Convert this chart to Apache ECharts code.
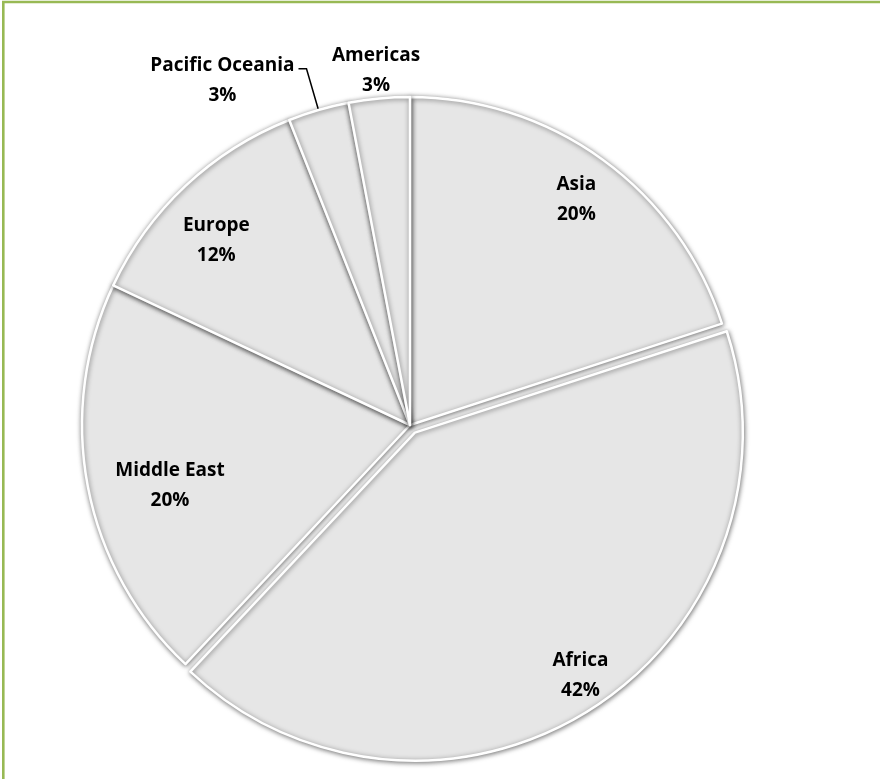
<!DOCTYPE html>
<html>
<head>
<meta charset="utf-8">
<script src="https://cdn.jsdelivr.net/npm/echarts@6/dist/echarts.min.js"></script>
<style>html,body{margin:0;padding:0;background:#fff;}#main{width:880px;height:779px;}</style>
</head>
<body>
<div id="main"></div>
<script>
const categories = ['Asia', 'Africa', 'Middle East', 'Europe', 'Pacific Oceania', 'Americas'];
const values = [20, 42, 20, 12, 3, 3];

const chart = echarts.init(document.getElementById('main'));
const FONT = 'Open Sans';
const txt = { color: '#000', fontFamily: FONT, fontWeight: 'bold', fontSize: 19, lineHeight: 30 };
function labelWith(spacer, extra) {
  return Object.assign({
    show: true,
    formatter: '{s| }\n{t|{b}}\n{t|{c}%}',
    rich: { s: { height: spacer, lineHeight: spacer, fontSize: 1 }, t: Object.assign({ align: 'center' }, txt) }
  }, txt, extra);
}
const CENTER = [410, 425];
const R = 328;

const mainData = categories.map((name, i) => {
  const d = { name, value: values[i] };
  if (name === 'Africa') d.selected = true;
  if (name === 'Pacific Oceania') {
    d.label = labelWith(24, { position: 'outside', distanceToLabelLine: 4 });
    d.labelLine = { show: true, length: 43, length2: 8, lineStyle: { color: '#000', width: 1.5 } };
  } else {
    d.label = { show: false };
    d.labelLine = { show: false };
  }
  return d;
});

const insideCfg = {
  'Asia': { sp: 8, pad: [0, 0, 0, 0] },
  'Africa': { sp: 8, pad: [0, 0, 0, 28] },
  'Middle East': { sp: 16, pad: [0, 0, 0, 76] },
  'Europe': { sp: 44, pad: [0, 0, 0, 0] }
};
const overlay1 = categories.map((name, i) => {
  const d = { name, value: values[i] };
  if (name === 'Africa') d.selected = true;
  const c = insideCfg[name];
  d.label = c ? labelWith(c.sp, { position: 'inside', padding: c.pad }) : { show: false };
  return d;
});
const overlay2 = categories.map((name, i) => {
  const d = { name, value: values[i] };
  d.label = name === 'Americas' ? labelWith(10, { position: 'inside' }) : { show: false };
  return d;
});

const overlayCommon = {
  type: 'pie', center: CENTER, startAngle: 90, clockwise: true, silent: true,
  avoidLabelOverlap: false, animation: false, selectedMode: 'single', selectedOffset: 9,
  itemStyle: { color: 'rgba(0,0,0,0)', borderWidth: 0 },
  labelLine: { show: false }, emphasis: { disabled: true }, z: 5
};

chart.setOption({
  animation: false,
  backgroundColor: '#fff',
  graphic: [{
    type: 'rect', shape: { x: 3.3, y: 2, width: 1000, height: 1000 },
    style: { fill: 'none', stroke: '#98b954', lineWidth: 2.6 }, z: 100
  }],
  series: [
    {
      type: 'pie', center: CENTER, radius: [0, R], startAngle: 90, clockwise: true,
      avoidLabelOverlap: false, animation: false, selectedMode: 'single', selectedOffset: 9,
      itemStyle: {
        color: '#e6e6e6',
        borderColor: '#ffffff', borderWidth: 2.5,
        shadowBlur: 5, shadowOffsetX: 0.5, shadowOffsetY: 1, shadowColor: 'rgba(0,0,0,0.5)'
      },
      emphasis: { disabled: true },
      data: mainData
    },
    Object.assign({}, overlayCommon, { radius: [0, 560], data: overlay1 }),
    Object.assign({}, overlayCommon, { radius: [0, 716], data: overlay2 })
  ]
});
</script>
</body>
</html>
